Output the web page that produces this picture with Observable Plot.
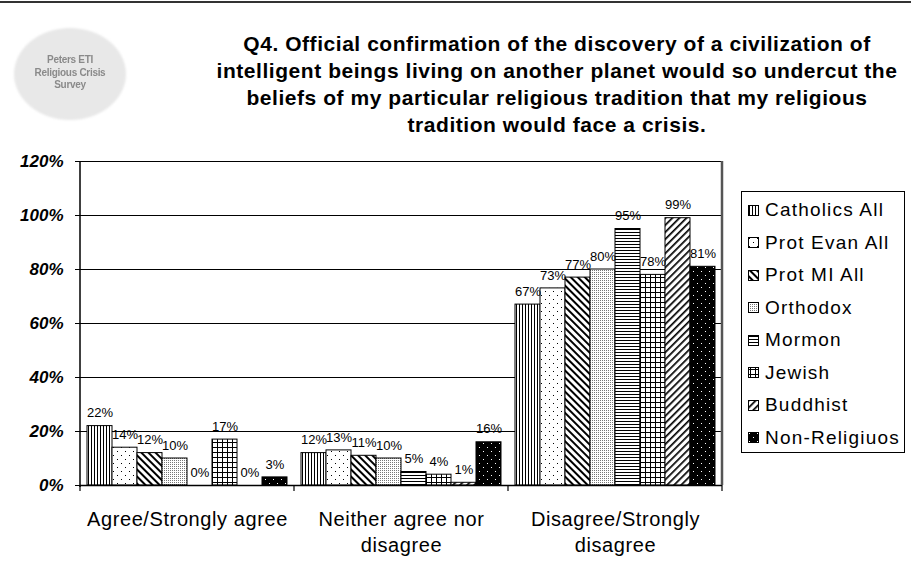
<!DOCTYPE html>
<html><head><meta charset="utf-8">
<script src="https://cdn.jsdelivr.net/npm/d3@7"></script>
<script src="https://cdn.jsdelivr.net/npm/@observablehq/plot@0.6"></script>
<style>
body{margin:0;background:#fff;font-family:"Liberation Sans",Arial,sans-serif;}
#wrap{position:relative;width:911px;height:571px;overflow:hidden;background:#fff;}
#topline{position:absolute;left:0;top:1px;width:911px;height:2px;background:#333;}
#logo{position:absolute;left:14px;top:28px;width:112px;height:92px;border-radius:50%;background:#e8e8e8;filter:blur(1px);}
#logotext{position:absolute;left:14px;top:54px;width:112px;text-align:center;font-size:10px;line-height:12.5px;color:#8a8a8a;font-weight:bold;letter-spacing:-0.3px;filter:blur(0.5px);}
#title{position:absolute;left:200px;width:714px;top:30px;text-align:center;font-weight:bold;font-size:21px;line-height:27px;letter-spacing:0.55px;color:#000;}
#chart{position:absolute;left:0;top:150px;}
#legend{position:absolute;left:741px;top:191px;width:164px;height:262px;border:1px solid #000;box-sizing:border-box;padding-top:2px;}
.item{height:32.5px;display:flex;align-items:center;padding-left:6px;font-size:19px;letter-spacing:1.2px;white-space:nowrap;}
.item svg{margin-right:6px;flex:none;}
#defs{position:absolute;left:0;top:0;width:0;height:0;}
</style></head>
<body>
<div id="wrap">
  <div id="topline"></div>
  <div id="logo"></div>
  <div id="logotext">Peters ETI<br>Religious Crisis<br>Survey</div>
  <div id="title"></div>
  <div id="chart"></div>
  <div id="legend"></div>
  <svg id="defs" width="0" height="0">
    <defs>
      <pattern id="pat0" patternUnits="userSpaceOnUse" width="3" height="3">
        <rect width="3" height="3" fill="#fff"/><rect x="1" width="1" height="3" fill="#000"/>
      </pattern>
      <pattern id="pat1" patternUnits="userSpaceOnUse" width="8" height="8">
        <rect width="8" height="8" fill="#fff"/><rect x="1" y="1" width="1" height="1" fill="#000"/><rect x="5" y="5" width="1" height="1" fill="#000"/>
      </pattern>
      <pattern id="pat2" patternUnits="userSpaceOnUse" width="5" height="5" patternTransform="rotate(-45)">
        <rect width="5" height="5" fill="#fff"/><rect x="0" width="2" height="5" fill="#000"/>
      </pattern>
      <pattern id="pat3" patternUnits="userSpaceOnUse" width="2" height="2">
        <rect width="2" height="2" fill="#fff"/><rect width="1" height="1" fill="#777"/>
      </pattern>
      <pattern id="pat4" patternUnits="userSpaceOnUse" width="3" height="3">
        <rect width="3" height="3" fill="#fff"/><rect y="1" width="3" height="1" fill="#000"/>
      </pattern>
      <pattern id="pat5" patternUnits="userSpaceOnUse" width="5" height="5">
        <rect width="5" height="5" fill="#fff"/><rect x="2" width="1" height="5" fill="#000"/><rect y="2" width="5" height="1" fill="#000"/>
      </pattern>
      <pattern id="pat6" patternUnits="userSpaceOnUse" width="5" height="5" patternTransform="rotate(45)">
        <rect width="5" height="5" fill="#fff"/><rect x="0" width="1.7" height="5" fill="#000"/>
      </pattern>
      <pattern id="pat7" patternUnits="userSpaceOnUse" width="8" height="8">
        <rect width="8" height="8" fill="#000"/><rect x="1" y="1" width="1" height="1" fill="#fff"/><rect x="5" y="5" width="1" height="1" fill="#fff"/>
      </pattern>
    </defs>
  </svg>
</div>
<script>
const titleText = "Q4. Official confirmation of the discovery of a civilization of\nintelligent beings living on another planet would so undercut the\nbeliefs of my particular religious tradition that my religious\ntradition would face a crisis.";
const categories = ["Agree/Strongly agree", "Neither agree nor disagree", "Disagree/Strongly disagree"];
const categoryLines = ["Agree/Strongly agree", "Neither agree nor\ndisagree", "Disagree/Strongly\ndisagree"];
const series = ["Catholics All", "Prot Evan All", "Prot MI All", "Orthodox", "Mormon", "Jewish", "Buddhist", "Non-Religiuos"];
const agree = [22, 14, 12, 10, 0, 17, 0, 3];
const neither = [12, 13, 11, 10, 5, 4, 1, 16];
const disagree = [67, 73, 77, 80, 95, 78, 99, 81];
const yTicks = [0, 20, 40, 60, 80, 100, 120];

document.getElementById("title").innerHTML = titleText.split("\n").map(s => `<div>${s}</div>`).join("");

const valuesByCat = [agree, neither, disagree];
const table = categories.flatMap((c, i) => series.map((s, j) => ({category: c, series: s, value: valuesByCat[i][j]})));
const patterns = series.map((s, i) => `url(#pat${i})`);

const chart = Plot.plot({
  width: 911, height: 421,
  marginLeft: 80, marginRight: 189, marginTop: 11, marginBottom: 86,
  style: {fontFamily: "Liberation Sans, Arial, sans-serif", background: "transparent", overflow: "visible", color: "#000"},
  fx: {domain: categories, padding: 0, label: null},
  x: {domain: series, paddingInner: 0, paddingOuter: 0.24, axis: null},
  y: {domain: [0, 120], axis: null},
  color: {domain: series, range: patterns},
  marks: [
    Plot.ruleY(yTicks.slice(1), {stroke: "#000", strokeWidth: 1}),
    Plot.barY(table, {fx: "category", x: "series", y: "value", fill: "series", stroke: "#000", strokeWidth: 1}),
    Plot.text(table, {fx: "category", x: "series", y: "value", text: d => d.value + "%", dy: -13, fontSize: 13, fill: "#000"}),
    Plot.ruleY([0], {stroke: "#000", strokeWidth: 1.5}),
    Plot.axisY({ticks: yTicks, tickFormat: d => d + "%", tickSize: 5, tickPadding: 12, fontSize: 17, fontWeight: "bold", fontStyle: "italic", label: null}),
    Plot.axisFx({anchor: "bottom", tickSize: 0, tickPadding: 22, fontSize: 20, label: null, tickFormat: d => categoryLines[categories.indexOf(d)], lineHeight: 1.3})
  ]
});
document.getElementById("chart").appendChild(chart);

// slightly wider letter spacing on category labels, as in the reference
d3.select(chart).selectAll("g[aria-label='fx-axis tick label'] text").style("letter-spacing", "0.6px");

// frame lines and category boundary ticks from the scales
const fx = chart.scale("fx"), y = chart.scale("y");
const yTop = y.apply(120), yBot = y.apply(0);
const bounds = categories.map(c => fx.apply(c)).concat([fx.apply(categories[categories.length - 1]) + fx.bandwidth]);
const svg = d3.select(chart);
svg.append("line").attr("x1", bounds[0]).attr("x2", bounds[0]).attr("y1", yTop).attr("y2", yBot + 2).attr("stroke", "#000").attr("stroke-width", 1.5);
svg.append("line").attr("x1", bounds[3]).attr("x2", bounds[3]).attr("y1", yTop).attr("y2", yBot).attr("stroke", "#555").attr("stroke-width", 2.5);
bounds.forEach(b => svg.append("line").attr("x1", b).attr("x2", b).attr("y1", yBot).attr("y2", yBot + 6).attr("stroke", "#000").attr("stroke-width", 1.2));

// legend
const legend = document.getElementById("legend");
series.forEach((s, i) => {
  const div = document.createElement("div");
  div.className = "item";
  div.innerHTML = `<svg width="11" height="11"><rect x="0.5" y="0.5" width="10" height="10" fill="${patterns[i]}" stroke="#000" stroke-width="1"/></svg><span>${s}</span>`;
  legend.appendChild(div);
});
</script>
</body></html>
